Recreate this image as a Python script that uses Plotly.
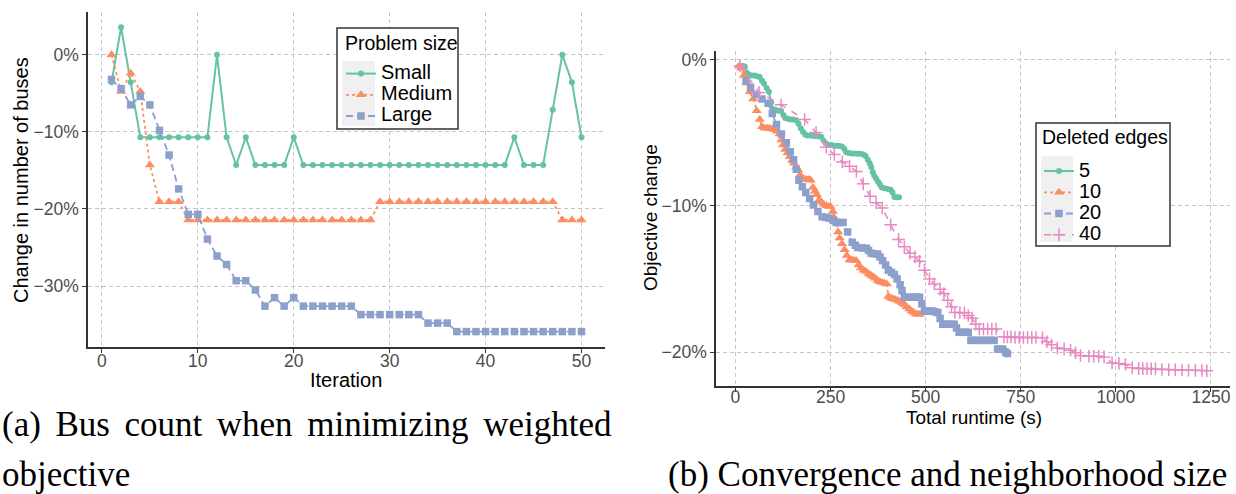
import plotly.graph_objects as go

# ---------------- Data: (a) bus count vs iteration ----------------
iterations = list(range(1, 51))
small = ([-3.57, 3.57, -3.57] + [-10.71] * 8 + [0.0, -10.71, -14.29, -10.71]
         + [-14.29] * 4 + [-10.71] + [-14.29] * 22 + [-10.71] + [-14.29] * 3
         + [-7.14, 0.0, -3.57, -10.71])
medium = ([0.0, -4.76, -2.38, -4.76, -14.29] + [-19.05] * 3 + [-21.43] * 20
          + [-19.05] * 19 + [-21.43] * 3)
large = ([-3.2, -4.4, -6.5, -5.4, -6.5, -9.8, -13.0, -17.4, -20.7, -20.7,
          -23.9, -26.1, -27.2, -29.3, -29.3, -30.5, -32.6, -31.5, -32.6, -31.5]
         + [-32.6] * 6 + [-33.7] * 7 + [-34.8] * 3 + [-35.9] * 14)

# ---------------- Data: (b) objective change vs runtime ----------------
e5_x = [10, 15, 20, 25, 30, 35, 42, 50, 57, 64, 70, 75, 82, 88, 94, 100, 106, 112, 120, 126,
        131, 138, 145, 152, 160, 166, 172, 178, 184, 190, 197, 204, 211, 218, 226, 232, 238,
        245, 252, 259, 266, 273, 280, 286, 291, 298, 305, 312, 320, 328, 336, 342, 348, 353,
        357, 361, 365, 370, 375, 380, 385, 392, 400, 408, 413, 418, 424, 430]
e5_y = [-0.45, -0.45, -0.45, -0.5, -0.9, -1.05, -1.1, -1.1, -1.15, -1.2, -1.45, -1.65, -1.95,
        -2.2, -2.9, -3.4, -3.45, -3.5, -3.5, -3.8, -4.0, -4.05, -4.1, -4.1, -4.15, -4.4, -4.7,
        -4.95, -5.15, -5.2, -5.2, -5.22, -5.25, -5.25, -5.3, -5.55, -5.75, -5.85, -5.85, -5.9,
        -5.9, -5.92, -5.95, -6.1, -6.35, -6.4, -6.42, -6.42, -6.45, -6.45, -6.5, -6.6, -6.85,
        -7.1, -7.35, -7.7, -7.95, -8.15, -8.35, -8.55, -8.75, -8.8, -8.85, -8.9, -9.1, -9.4,
        -9.42, -9.42]

e10_x = [10, 15, 22, 29, 38, 47, 56, 64, 70, 77, 84, 90, 97, 104, 110, 116, 121, 125, 131, 137,
         143, 149, 154, 160, 165, 170, 174, 180, 187, 193, 198, 204, 209, 214, 220, 226, 232,
         239, 245, 250, 256, 261, 265, 270, 274, 280, 287, 293, 300, 306, 312, 318, 324, 330,
         337, 343, 350, 356, 362, 368, 374, 380, 386, 392, 398, 402, 408, 414, 420, 426, 432,
         438, 444, 450, 457, 463, 469, 475, 480, 485]
e10_y = [-0.45, -0.6, -1.1, -1.6, -2.2, -2.7, -3.5, -4.1, -4.6, -4.7, -4.7, -4.7, -4.75, -4.8,
         -4.9, -5.1, -5.5, -5.85, -6.15, -6.4, -6.65, -6.9, -7.1, -7.35, -7.55, -7.9, -8.1,
         -8.15, -8.2, -8.2, -8.25, -8.75, -9.0, -9.25, -9.6, -9.75, -9.9, -10.0, -10.05, -10.05,
         -10.4, -10.85, -11.1, -11.8, -12.2, -12.6, -13.0, -13.4, -13.7, -13.7, -13.72, -13.75,
         -14.05, -14.25, -14.4, -14.5, -14.65, -14.75, -14.85, -14.95, -15.1, -15.2, -15.25,
         -15.3, -15.35, -16.2, -16.3, -16.35, -16.4, -16.45, -16.55, -16.65, -16.75, -16.9,
         -17.05, -17.2, -17.3, -17.4, -17.42, -17.42]

e20_x = [28, 40, 55, 70, 86, 97, 108, 121, 134, 144, 153, 160, 167, 176, 185, 195, 205, 217,
         228, 238, 248, 257, 265, 274, 283, 295, 307, 315, 322, 333, 344, 350, 357, 365, 374,
         380, 387, 395, 402, 410, 418, 425, 433, 438, 444, 452, 460, 468, 476, 484, 490, 497,
         504, 511, 518, 525, 532, 538, 545, 552, 560, 568, 575, 581, 588, 596, 604, 612, 619,
         628, 636, 645, 654, 663, 672, 680, 689, 696, 703, 710, 715]
e20_y = [-1.45, -1.9, -2.4, -2.7, -3.0, -3.7, -4.45, -5.1, -5.7, -6.3, -6.85, -7.5, -8.25, -8.7,
         -9.1, -9.5, -9.95, -10.4, -10.75, -10.8, -10.85, -11.0, -11.15, -11.15, -11.15, -11.8,
         -12.5, -12.7, -12.85, -12.88, -12.9, -13.05, -13.25, -13.28, -13.3, -13.5, -13.75,
         -14.05, -14.4, -14.55, -14.7, -15.0, -15.4, -15.8, -16.25, -16.25, -16.25, -16.25,
         -16.25, -16.25, -16.7, -17.2, -17.2, -17.2, -17.2, -17.25, -17.3, -17.7, -18.1, -18.1,
         -18.1, -18.1, -18.1, -18.35, -18.65, -18.65, -18.65, -18.65, -19.2, -19.2, -19.2,
         -19.2, -19.2, -19.2, -19.2, -19.2, -19.8, -19.8, -19.8, -20.0, -20.1]

e40_x = [12, 62, 120, 182, 212, 239, 260, 281, 300, 318, 336, 354, 370, 386, 408, 429, 444, 459,
         472, 484, 497, 510, 523, 538, 548, 558, 568, 577, 590, 602, 612, 622, 632, 641, 652,
         663, 674, 685, 706, 715, 724, 735, 746, 757, 768, 779, 790, 807, 819, 831, 846, 864,
         881, 894, 907, 929, 942, 955, 969, 990, 1008, 1025, 1043, 1060, 1071, 1082, 1093,
         1104, 1121, 1139, 1156, 1174, 1191, 1209, 1226, 1239]
e40_y = [-0.45, -2.25, -3.1, -4.1, -5.0, -6.0, -6.5, -7.0, -7.3, -7.65, -8.5, -9.35, -9.8,
         -10.15, -11.3, -12.3, -12.8, -13.25, -13.5, -13.8, -14.4, -15.0, -15.35, -15.7, -16.0,
         -16.45, -16.9, -17.3, -17.3, -17.32, -17.5, -17.68, -18.1, -18.42, -18.42, -18.42,
         -18.42, -18.42, -18.96, -18.96, -18.96, -19.0, -19.0, -19.0, -19.0, -19.0, -19.0,
         -19.03, -19.3, -19.5, -19.72, -19.78, -19.88, -20.05, -20.24, -20.29, -20.29, -20.29,
         -20.33, -20.74, -20.78, -20.85, -21.08, -21.13, -21.13, -21.13, -21.14, -21.15, -21.19,
         -21.2, -21.22, -21.23, -21.24, -21.25, -21.26, -21.28]

left_xticks = [0, 10, 20, 30, 40, 50]
left_yticks = [0, -10, -20, -30]
left_ylabels = ["0%", "\u221210%", "\u221220%", "\u221230%"]
right_xticks = [0, 250, 500, 750, 1000, 1250]
right_yticks = [0, -10, -20]
right_ylabels = ["0%", "\u221210%", "\u221220%"]

GREEN, ORANGE, BLUE, PINK = "#66C2A5", "#FC8D62", "#8DA0CB", "#E78AC3"
SANS = "Liberation Sans, Arial, sans-serif"
SERIF = "Liberation Serif, Times New Roman, serif"
W, H = 1236, 494


def px(x):
    return x / W


def py(y):
    return 1 - y / H


def lab(t):
    return '<span style="font-size:20px">%s</span>' % t


fig = go.Figure()

# (a)
fig.add_trace(go.Scatter(x=iterations, y=small, mode="lines+markers", name=lab("Small"),
                         line=dict(color=GREEN, width=2), marker=dict(symbol="circle", size=6),
                         xaxis="x", yaxis="y", legend="legend"))
fig.add_trace(go.Scatter(x=iterations, y=medium, mode="lines+markers", name=lab("Medium"),
                         line=dict(color=ORANGE, width=1.8, dash="3px,3px"),
                         marker=dict(symbol="triangle-up", size=9),
                         xaxis="x", yaxis="y", legend="legend"))
fig.add_trace(go.Scatter(x=iterations, y=large, mode="lines+markers", name=lab("Large"),
                         line=dict(color=BLUE, width=1.8, dash="7px,4px"),
                         marker=dict(symbol="square", size=7.5),
                         xaxis="x", yaxis="y", legend="legend"))

# (b)
fig.add_trace(go.Scatter(x=e5_x, y=e5_y, mode="lines+markers", name=lab("5"),
                         line=dict(color=GREEN, width=2), marker=dict(symbol="circle", size=6),
                         xaxis="x2", yaxis="y2", legend="legend2"))
fig.add_trace(go.Scatter(x=e10_x, y=e10_y, mode="lines+markers", name=lab("10"),
                         line=dict(color=ORANGE, width=1.8, dash="3px,3px"),
                         marker=dict(symbol="triangle-up", size=9),
                         xaxis="x2", yaxis="y2", legend="legend2"))
fig.add_trace(go.Scatter(x=e20_x, y=e20_y, mode="lines+markers", name=lab("20"),
                         line=dict(color=BLUE, width=1.8, dash="7px,4px"),
                         marker=dict(symbol="square", size=7.5),
                         xaxis="x2", yaxis="y2", legend="legend2"))
fig.add_trace(go.Scatter(x=e40_x, y=e40_y, mode="lines+markers", name=lab("40"),
                         line=dict(color=PINK, width=1.6, dash="7px,7px"),
                         marker=dict(symbol="cross-thin", size=9, color=PINK,
                                     line=dict(color=PINK, width=1.5)),
                         xaxis="x2", yaxis="y2", legend="legend2"))

axis_common = dict(showgrid=True, gridcolor="#C4C4C4", griddash="4px,3px", gridwidth=1,
                   zeroline=False, showline=True, linecolor="#333333", linewidth=1.5,
                   ticks="outside", ticklen=4, tickcolor="#333333", tickwidth=1,
                   tickfont=dict(family=SANS, size=17.5, color="#4D4D4D"))

fig.update_layout(
    width=W, height=H, margin=dict(l=0, r=0, t=0, b=0),
    paper_bgcolor="white", plot_bgcolor="white",
    xaxis=dict(domain=[px(88), px(605)], range=[-1.45, 52.45], tickvals=left_xticks,
               anchor="y", ticklabelstandoff=-7, **axis_common),
    yaxis=dict(domain=[py(347), py(12)], range=[-37.9, 5.55], tickvals=left_yticks,
               ticktext=left_ylabels, anchor="x", **axis_common),
    xaxis2=dict(domain=[px(716), px(1230)], range=[-51, 1300], tickvals=right_xticks,
                anchor="y2", ticklabelstandoff=-10, **axis_common),
    yaxis2=dict(domain=[py(386), py(50.7)], range=[-22.32, 0.6], tickvals=right_yticks,
                ticktext=right_ylabels, anchor="x2", **axis_common),
    legend=dict(x=px(341), y=py(58), xanchor="left", yanchor="top",
                bgcolor="rgba(0,0,0,0)", borderwidth=0, tracegroupgap=0,
                font=dict(family=SANS, size=14, color="black")),
    legend2=dict(x=px(1039), y=py(155.5), xanchor="left", yanchor="top",
                 bgcolor="rgba(0,0,0,0)", borderwidth=0, tracegroupgap=0,
                 font=dict(family=SANS, size=14, color="black")),
    shapes=[
        dict(type="rect", xref="paper", yref="paper", x0=px(337), x1=px(458), y0=py(129), y1=py(28),
             fillcolor="white", line=dict(color="#333333", width=1.5), layer="above"),
        dict(type="rect", xref="paper", yref="paper", x0=px(342), x1=px(375), y0=py(126), y1=py(61),
             fillcolor="#F0F0F0", line=dict(width=0), layer="above"),
        dict(type="rect", xref="paper", yref="paper", x0=px(1036), x1=px(1170), y0=py(246), y1=py(123),
             fillcolor="white", line=dict(color="#333333", width=1.5), layer="above"),
        dict(type="rect", xref="paper", yref="paper", x0=px(1041), x1=px(1073), y0=py(242), y1=py(156),
             fillcolor="#F0F0F0", line=dict(width=0), layer="above"),
    ],
)

ann = []
# legend titles
ann.append(dict(text="Problem size", x=px(343), y=py(43), xref="paper", yref="paper",
                showarrow=False, font=dict(family=SANS, size=19.5, color="black"),
                xanchor="left", yanchor="middle"))
ann.append(dict(text="Deleted edges", x=px(1040), y=py(137), xref="paper", yref="paper",
                showarrow=False, font=dict(family=SANS, size=19.5, color="black"),
                xanchor="left", yanchor="middle"))
# axis titles
ann.append(dict(text="Change in number of buses", x=px(21), y=py(180), xref="paper", yref="paper",
                textangle=-90, showarrow=False, font=dict(family=SANS, size=20, color="black"),
                xanchor="center", yanchor="middle"))
ann.append(dict(text="Iteration", x=px(346), y=py(380), xref="paper", yref="paper",
                showarrow=False, font=dict(family=SANS, size=20, color="black"),
                xanchor="center", yanchor="middle"))
ann.append(dict(text="Objective change", x=px(650), y=py(218), xref="paper", yref="paper",
                textangle=-90, showarrow=False, font=dict(family=SANS, size=19, color="black"),
                xanchor="center", yanchor="middle"))
ann.append(dict(text="Total runtime (s)", x=px(974), y=py(417), xref="paper", yref="paper",
                showarrow=False, font=dict(family=SANS, size=19, color="black"),
                xanchor="center", yanchor="middle"))
# captions
ann.append(dict(text="(a) \u2006Bus \u2006count \u2006when \u2006minimizing \u2006weighted",
                x=px(0), y=py(424), xref="paper", yref="paper", showarrow=False,
                font=dict(family=SERIF, size=35, color="black"), xanchor="left", yanchor="middle"))
ann.append(dict(text="objective", x=px(0), y=py(474), xref="paper", yref="paper", showarrow=False,
                font=dict(family=SERIF, size=35, color="black"), xanchor="left", yanchor="middle"))
ann.append(dict(text="(b) Convergence and neighborhood size", x=px(666),
                y=py(474), xref="paper", yref="paper", showarrow=False,
                font=dict(family=SERIF, size=35, color="black"), xanchor="left", yanchor="middle"))
fig.update_layout(annotations=ann)

fig.write_html("out.html")
